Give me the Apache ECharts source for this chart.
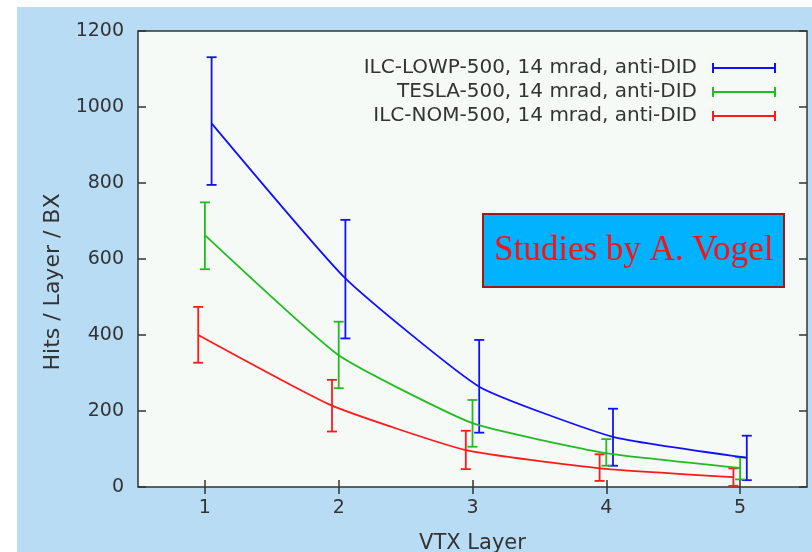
<!DOCTYPE html>
<html>
<head>
<meta charset="utf-8">
<script src="https://cdn.jsdelivr.net/npm/echarts@6/dist/echarts.min.js"></script>
<style>
  html, body { margin: 0; padding: 0; background: #fff; }
  #chart { width: 812px; height: 552px; }
</style>
</head>
<body>
<div id="chart"></div>
<script>
// VTX hits per layer per BX
var layers = [1, 2, 3, 4, 5];
var tickLabels = ['1', '2', '3', '4', '5'];

var lowpHits = [957, 549, 264, 132, 77];
var lowpLow = [795, 391, 143, 56, 18];
var lowpHigh = [1131, 703, 387, 206, 135];

var teslaHits = [663, 347, 168, 89, 50];
var teslaLow = [573, 260, 106, 56, 20];
var teslaHigh = [749, 435, 229, 126, 78];

var nomHits = [400, 214, 97, 49, 26];
var nomLow = [327, 146, 47, 16, 3];
var nomHigh = [474, 282, 148, 86, 49];

var seriesNames = [
  'ILC-LOWP-500, 14 mrad, anti-DID',
  'TESLA-500, 14 mrad, anti-DID',
  'ILC-NOM-500, 14 mrad, anti-DID'
];

var font = 'DejaVu Sans';
var barIcon = 'path://M0,0h2v10h-2zM0,4h64v2h-64zM62,0h2v10h-2z';

function errorBarSeries(name, color, shift, low, high) {
  return {
    name: name,
    type: 'custom',
    itemStyle: { color: color },
    data: layers.map(function (x, i) { return [x + shift, low[i], high[i]]; }),
    encode: { x: 0, y: [1, 2] },
    renderItem: function (params, api) {
      var top = api.coord([api.value(0), api.value(2)]);
      var bot = api.coord([api.value(0), api.value(1)]);
      var style = { stroke: color, lineWidth: 1.8 };
      return {
        type: 'group',
        children: [
          { type: 'line', shape: { x1: top[0], y1: top[1], x2: bot[0], y2: bot[1] }, style: style },
          { type: 'line', shape: { x1: top[0] - 5, y1: top[1], x2: top[0] + 5, y2: top[1] }, style: style },
          { type: 'line', shape: { x1: bot[0] - 5, y1: bot[1], x2: bot[0] + 5, y2: bot[1] }, style: style }
        ]
      };
    }
  };
}

function lineSeries(name, color, shift, values) {
  return {
    name: name,
    type: 'line',
    smooth: 0.15,
    showSymbol: false,
    lineStyle: { color: color, width: 1.8 },
    itemStyle: { color: color },
    data: layers.map(function (x, i) { return [x + shift, values[i]]; })
  };
}

function legendRow(name, top) {
  return {
    data: [{ name: name, icon: barIcon }],
    right: 36,
    top: top,
    padding: 0,
    align: 'right',
    itemWidth: 64,
    itemHeight: 10,
    selectedMode: false,
    textStyle: { fontFamily: font, fontSize: 20, color: '#333', padding: [0, 10, 0, 0] }
  };
}

var chart = echarts.init(document.getElementById('chart'));

var option = {
  backgroundColor: '#ffffff',
  animation: false,
  graphic: [{
    type: 'rect',
    z: -100,
    shape: { x: 17, y: 7, width: 795, height: 545 },
    style: { fill: '#b9dcf5' }
  }],
  title: {
    text: 'Studies by A. Vogel',
    left: 483,
    top: 214,
    padding: [19, 11],
    backgroundColor: '#00b2ff',
    borderColor: '#a01818',
    borderWidth: 2,
    textStyle: { fontFamily: 'Liberation Serif', fontSize: 35, fontWeight: 'normal', color: '#ff1010' }
  },
  legend: [
    legendRow(seriesNames[0], 58),
    legendRow(seriesNames[1], 82),
    legendRow(seriesNames[2], 106)
  ],
  grid: {
    left: 138,
    top: 31,
    right: 5,
    bottom: 65,
    outerBoundsMode: 'none',
    show: true,
    backgroundColor: '#f5faf7',
    borderColor: '#333',
    borderWidth: 1.5
  },
  xAxis: [{
    type: 'value',
    min: 0.5,
    max: 5.5,
    name: 'VTX Layer',
    nameLocation: 'middle',
    nameGap: 46,
    nameTextStyle: { fontFamily: font, fontSize: 21, color: '#333' },
    axisLine: { show: false },
    splitLine: { show: false },
    axisTick: { inside: true, length: 7, customValues: layers, lineStyle: { color: '#333', width: 1.5 } },
    axisLabel: {
      customValues: layers,
      margin: 12,
      fontFamily: font,
      fontSize: 19,
      color: '#333',
      formatter: function (v) { return tickLabels[layers.indexOf(v)]; }
    }
  }, {
    type: 'value',
    position: 'top',
    min: 0.5,
    max: 5.5,
    axisLine: { show: false },
    splitLine: { show: false },
    axisTick: { inside: true, length: 7, customValues: layers, lineStyle: { color: '#333', width: 1.5 } },
    axisLabel: { show: false }
  }],
  yAxis: [{
    type: 'value',
    min: 0,
    max: 1200,
    interval: 200,
    name: 'Hits / Layer / BX',
    nameLocation: 'middle',
    nameGap: 74,
    nameTextStyle: { fontFamily: font, fontSize: 22, color: '#333', padding: [0, 46, 0, 0] },
    axisLine: { show: false },
    splitLine: { show: false },
    axisTick: { inside: true, length: 8, lineStyle: { color: '#333', width: 1.5 } },
    axisLabel: {
      margin: 14,
      fontFamily: font,
      fontSize: 19,
      color: '#333',
      formatter: function (v) { return String(v); }
    }
  }, {
    type: 'value',
    position: 'right',
    min: 0,
    max: 1200,
    interval: 200,
    axisLine: { show: false },
    splitLine: { show: false },
    axisTick: { inside: true, length: 8, lineStyle: { color: '#333', width: 1.5 } },
    axisLabel: { show: false }
  }],
  series: [
    errorBarSeries(seriesNames[0], '#1010ff', 0.05, lowpLow, lowpHigh),
    errorBarSeries(seriesNames[1], '#22bb22', 0, teslaLow, teslaHigh),
    errorBarSeries(seriesNames[2], '#ff1a1a', -0.05, nomLow, nomHigh),
    lineSeries(seriesNames[0], '#1010ff', 0.05, lowpHits),
    lineSeries(seriesNames[1], '#22bb22', 0, teslaHits),
    lineSeries(seriesNames[2], '#ff1a1a', -0.05, nomHits)
  ]
};

chart.setOption(option);
</script>
</body>
</html>
